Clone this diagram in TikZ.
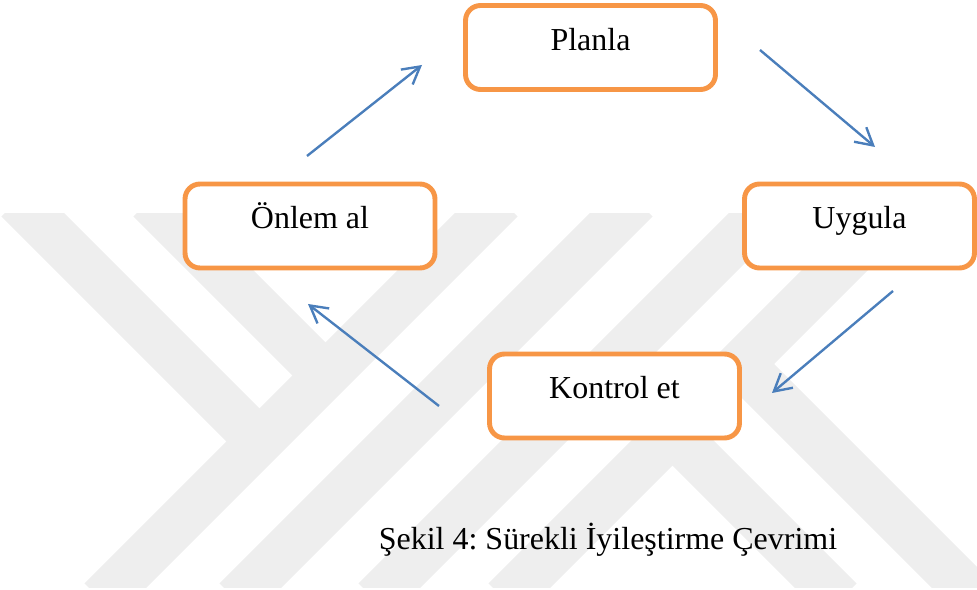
\documentclass[tikz,border=0pt]{standalone}
\usepackage{fontspec}
\setmainfont{Liberation Serif}
\usetikzlibrary{arrows.meta}
\frenchspacing
\definecolor{boxorange}{HTML}{F79646}
\definecolor{arrowblue}{HTML}{4A7EBB}
\definecolor{markgray}{HTML}{EEEEEE}
\tikzset{
  stepbox/.style={draw=boxorange, line width=2.8pt, fill=white, rounded corners=0.3cm,
    minimum width=5cm, minimum height=1.68cm, inner sep=0pt,
    text height=0.9cm, text depth=0.78cm, font=\fontsize{18.2}{22}\selectfont},
  band/.style={markgray, line width=0.94cm}
}
\begin{document}
\begin{tikzpicture}[x=0.02cm, y=-0.02cm]
      \useasboundingbox (0,0) rectangle (977,590);
      \begin{scope}
        \clip (0,214) rectangle (977,588);
        \draw[band] (501,200) -- (101,600);
        \draw[band] (636,200) -- (236,600);
        \draw[band] (775,200) -- (375,600);
        \draw[band] (905,200) -- (505,600);
        \draw[band] (18,200) -- (259.5,441.5);
        \draw[band] (150,200) -- (325.5,375.5);
        \draw[band] (672.5,432.5) -- (840,600);
        \draw[band] (741,364) -- (977,600);
      \end{scope}
      \draw
        (590.5,47.5) node[stepbox] (0){Planla}
        (859.5,226) node[stepbox, minimum width=4.6cm] (1){Uygula}
        (614.5,396) node[stepbox] (2){Kontrol et}
        (310,226) node[stepbox] (3){Önlem al};
      \node[font=\fontsize{18.2}{22}\selectfont, anchor=base] (cap) at (608,550)
        {Şekil 4: Sürekli İyileştirme Çevrimi};
      \path
        (760,50) coordinate (0a)
        (875,147) coordinate (1a)
        (893,291) coordinate (1b)
        (772,393) coordinate (2a)
        (439,406) coordinate (2b)
        (308,304) coordinate (3a)
        (307,156) coordinate (3b)
        (422,65) coordinate (0b);
      \begin{scope}[arrowblue, line width=1.35pt, -{Straight Barb[length=3.4mm, width=3.8mm]}]
        \draw (0a) to (1a);
        \draw (1b) to (2a);
        \draw (2b) to (3a);
        \draw (3b) to (0b);
      \end{scope}
    \end{tikzpicture}
\end{document}
